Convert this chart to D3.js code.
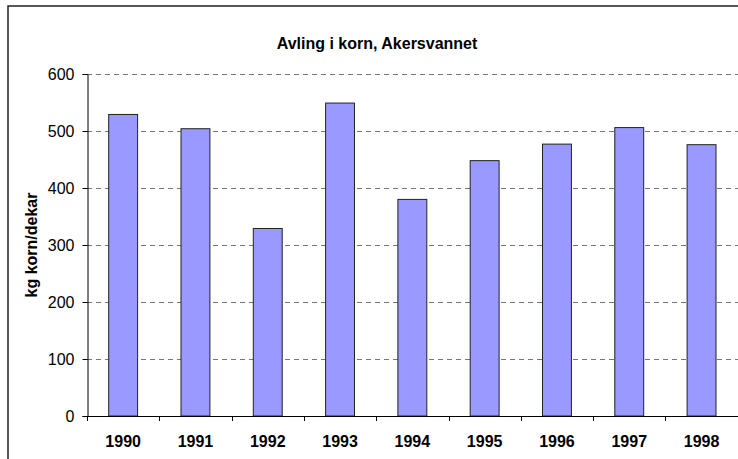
<!DOCTYPE html>
<html>
<head>
<meta charset="utf-8">
<script src="https://cdn.jsdelivr.net/npm/d3@7"></script>
<style>
  html, body { margin: 0; background: #fff; overflow: hidden; }
  svg { display: block; }
  text { font-family: "Liberation Sans", Arial, sans-serif; }
</style>
</head>
<body>
<svg id="chart" width="738" height="459"></svg>
<script>
const years = ['1990', '1991', '1992', '1993', '1994', '1995', '1996', '1997', '1998'];
const avling = [529, 504, 329, 549, 380, 448, 477, 506, 476];
const yTicks = [0, 100, 200, 300, 400, 500, 600];

const title = 'Avling i korn, Akersvannet';
const yLabel = 'kg korn/dekar';

const svg = d3.select('#chart');
const margin = {left: 87, top: 74, right: 0.3, bottom: 43};
const width = 738, height = 459;
const fontSize = 16;

// outer frame (cut off on right and bottom like the reference)
svg.append('rect')
    .attr('x', 8).attr('y', 6)
    .attr('width', 760).attr('height', 480)
    .attr('fill', 'none')
    .attr('stroke', '#222')
    .attr('stroke-width', 1.5);

const x = d3.scaleBand()
    .domain(years)
    .range([margin.left, width - margin.right]);

const y = d3.scaleLinear()
    .domain([0, 600])
    .range([height - margin.bottom, margin.top]);

// gridlines
svg.append('g')
  .selectAll('line')
  .data(yTicks.filter(d => d > 0))
  .join('line')
    .attr('x1', margin.left)
    .attr('x2', width)
    .attr('y1', d => Math.round(y(d)) + 0.5)
    .attr('y2', d => Math.round(y(d)) + 0.5)
    .attr('stroke', '#777')
    .attr('stroke-dasharray', '5,4');

// bars
const barW = x.bandwidth() * 0.4;
svg.append('g')
  .selectAll('rect')
  .data(years.map((d, i) => ({year: d, value: avling[i]})))
  .join('rect')
    .attr('x', d => x(d.year) + (x.bandwidth() - barW) / 2)
    .attr('y', d => y(d.value))
    .attr('width', barW)
    .attr('height', d => y(0) - y(d.value))
    .attr('fill', '#9999ff')
    .attr('stroke', '#222')
    .attr('stroke-width', 1);

// y axis
const yAxis = svg.append('g')
    .attr('transform', `translate(${margin.left + 0.5},0)`)
    .call(d3.axisLeft(y).tickValues(yTicks).tickSize(5).tickPadding(8));
yAxis.selectAll('text')
    .attr('font-size', fontSize)
    .attr('font-family', '"Liberation Sans", Arial, sans-serif')
    .attr('fill', '#000');
yAxis.select('.domain').attr('stroke', '#000');

// x axis
const xTicks = years.map(d => x(d)).concat([width - margin.right]);
const xAxisG = svg.append('g');
xAxisG.append('line')
    .attr('x1', margin.left)
    .attr('x2', width)
    .attr('y1', y(0) + 0.5)
    .attr('y2', y(0) + 0.5)
    .attr('stroke', '#000');
xAxisG.selectAll('.tick')
  .data(xTicks)
  .join('line')
    .attr('class', 'tick')
    .attr('x1', d => Math.round(d) + 0.5)
    .attr('x2', d => Math.round(d) + 0.5)
    .attr('y1', y(0))
    .attr('y2', y(0) + 5)
    .attr('stroke', '#000');
xAxisG.selectAll('.lbl')
  .data(years)
  .join('text')
    .attr('class', 'lbl')
    .attr('x', d => x(d) + x.bandwidth() / 2)
    .attr('y', y(0) + 31)
    .attr('text-anchor', 'middle')
    .attr('font-size', fontSize)
    .attr('font-weight', 'bold')
    .text(d => d);

// title
svg.append('text')
    .attr('x', 377)
    .attr('y', 49)
    .attr('text-anchor', 'middle')
    .attr('font-size', fontSize)
    .attr('font-weight', 'bold')
    .text(title);

// y label
svg.append('text')
    .attr('transform', `translate(37,${(y(0) + y(600)) / 2}) rotate(-90)`)
    .attr('text-anchor', 'middle')
    .attr('font-size', fontSize)
    .attr('font-weight', 'bold')
    .text(yLabel);
</script>
</body>
</html>
